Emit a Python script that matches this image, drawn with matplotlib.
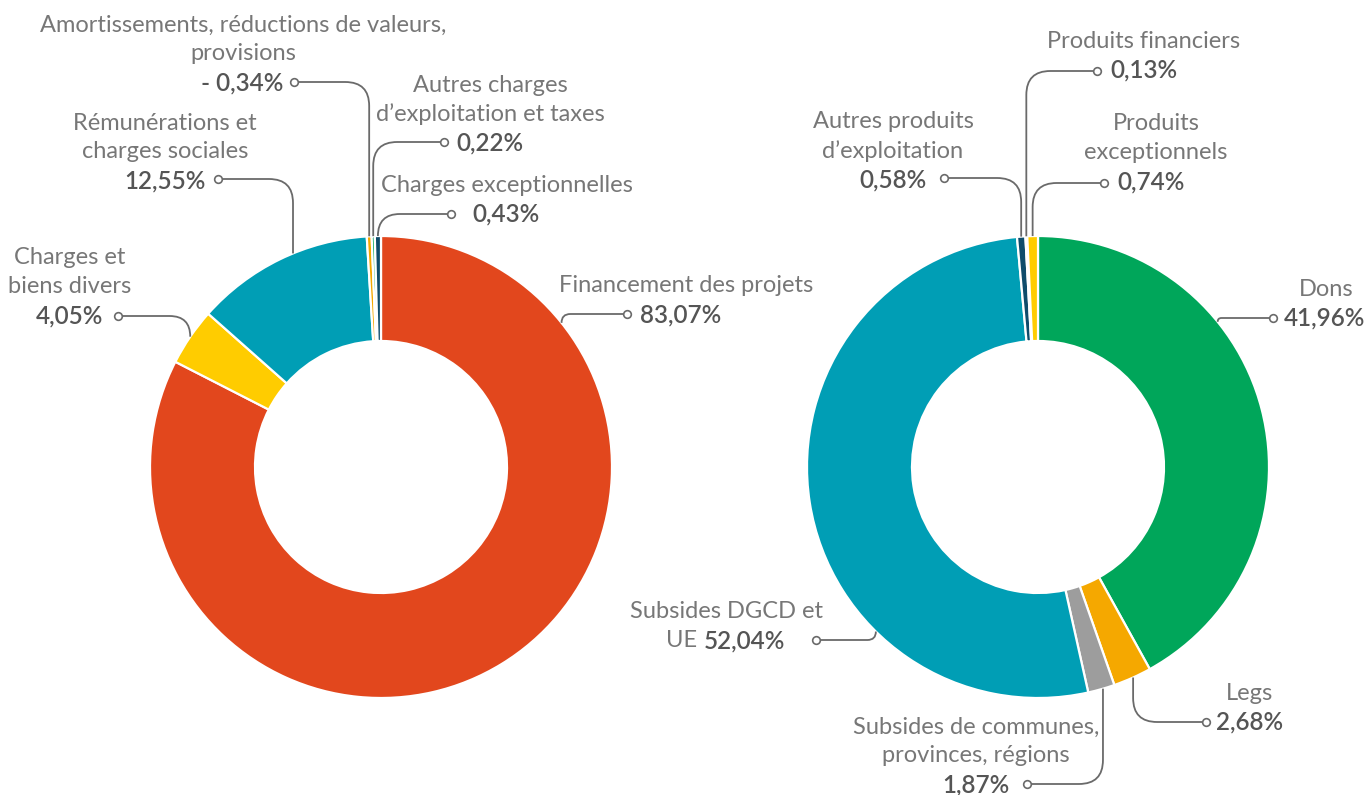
import matplotlib
matplotlib.use("Agg")
import matplotlib.pyplot as plt
from matplotlib.path import Path
from matplotlib.patches import PathPatch
import numpy as np

W, H = 1365, 795

# ---------------- data ----------------
left_names = ["Financement des projets", "Charges et\nbiens divers",
              "Rémunérations et\ncharges sociales",
              "Amortissements, réductions de valeurs,\nprovisions",
              "Autres charges\nd’exploitation et taxes", "Charges exceptionnelles"]
left_values = [83.07, 4.05, 12.55, -0.34, 0.22, 0.43]
left_colors = ["#E2471D", "#FFCC00", "#009EB5", "#F5A800", "#00A65A", "#0E4C6B"]

right_names = ["Dons", "Legs", "Subsides de communes,\nprovinces, régions",
               "Subsides DGCD et\nUE", "Autres produits\nd’exploitation",
               "Produits financiers", "Produits\nexceptionnels"]
right_values = [41.96, 2.68, 1.87, 52.04, 0.58, 0.13, 0.74]
right_colors = ["#00A65A", "#F5A800", "#9D9D9D", "#009EB5", "#0E4C6B", "#E2471D", "#FFCC00"]

# ---------------- layout (image pixel coords) ----------------
# name center x, first line y, value center x, circle x, circle y, position in wedge
left_layout = [(686, 286, 681, 627, 314, 0.173),
               (70, 258, 70, 118, 316, 0.5),
               (165, 123, 165, 218, 179, 0.58),
               (243, 25, 242, 294, 82, 0.5),
               (490, 85, 490, 444, 142, 0.5),
               (507, 185, 506, 451, 214, 0.5)]
right_layout = [(1326, 289, 1324, 1273, 318, 0.338),
                (1249, 693, 1250, 1206, 722, 0.48),
                (976, 727, 976, 1027, 784, 0.44),
                (727, 612, 727, 816, 640, 0.305),
                (893, 122, 893, 944, 178, 0.5),
                (1144, 41, 1144, 1097, 71, 0.5),
                (1156, 124, 1151, 1104, 183, 0.5)]

FAM = ["Lato", "DejaVu Sans"]
NAME_COLOR = "#777777"
VAL_COLOR = "#555555"
LINE_COLOR = "#6A6A6A"
FS_NAME = 17
FS_VAL = 17.5
LSP = 28.8

fig = plt.figure(figsize=(W / 100, H / 100), dpi=100)
ax = fig.add_axes([0, 0, 1, 1])

R = 231
WIDTH = 105


def fmt(v):
    s = f"{abs(v):.2f}".replace(".", ",") + "%"
    return ("- " + s) if v < 0 else s


def leader(p0, p1, r=24):
    p0 = np.asarray(p0, float)
    p1 = np.asarray(p1, float)
    c = np.array([p1[0], p0[1]])
    d0 = np.linalg.norm(c - p0)
    d1 = np.linalg.norm(p1 - c)
    if d1 < 1e-6:
        verts = [p0, p1]
        codes = [Path.MOVETO, Path.LINETO]
    else:
        rr = min(r, d0, d1)
        a = c + (p0 - c) / d0 * rr
        b = c + (p1 - c) / d1 * rr
        verts = [p0, a, c, b, p1]
        codes = [Path.MOVETO, Path.LINETO, Path.CURVE3, Path.CURVE3, Path.LINETO]
    ax.add_patch(PathPatch(Path(verts, codes), fill=False, ec=LINE_COLOR, lw=1.3, zorder=3))
    ax.plot([p0[0]], [p0[1]], "o", ms=5.5, mfc="white", mec=LINE_COLOR, mew=1.2, zorder=4)


def donut(center_img, names, values, colors, layout):
    cx, cy = center_img[0], H - center_img[1]
    sizes = [abs(v) for v in values]
    wedges, _ = ax.pie(sizes, colors=colors, startangle=90, counterclock=False,
                       radius=R, center=(cx, cy),
                       wedgeprops=dict(width=WIDTH, edgecolor="white", linewidth=1.6))
    for w, name, v, (nx, ny, vx, px, py, t) in zip(wedges, names, values, layout):
        ang = np.deg2rad(w.theta2 - t * (w.theta2 - w.theta1))
        anchor = (cx + R * np.cos(ang), cy + R * np.sin(ang))
        leader((px, H - py), anchor)
        lines = name.split("\n")
        special = name.endswith("\nUE")
        if special:
            lines = lines[:-1]
        for i, ln in enumerate(lines):
            ax.text(nx, H - (ny + i * LSP), ln, ha="center", va="center",
                    fontsize=FS_NAME, color=NAME_COLOR, family=FAM, fontweight="normal")
        yv = H - (ny + len(lines) * LSP)
        if special:
            ax.text(vx - 30, yv, "UE", ha="right", va="center",
                    fontsize=FS_NAME, color=NAME_COLOR, family=FAM, fontweight="normal")
            ax.text(vx - 23, yv, fmt(v), ha="left", va="center",
                    fontsize=FS_VAL, color=VAL_COLOR, family=FAM, fontweight="semibold")
        else:
            ax.text(vx, yv, fmt(v), ha="center", va="center",
                    fontsize=FS_VAL, color=VAL_COLOR, family=FAM, fontweight="semibold")


donut((381, 467), left_names, left_values, left_colors, left_layout)
donut((1038, 467), right_names, right_values, right_colors, right_layout)

ax.set_xlim(0, W)
ax.set_ylim(0, H)
ax.set_aspect("equal")
ax.axis("off")
fig.savefig("out.png", dpi=100, facecolor="white")
